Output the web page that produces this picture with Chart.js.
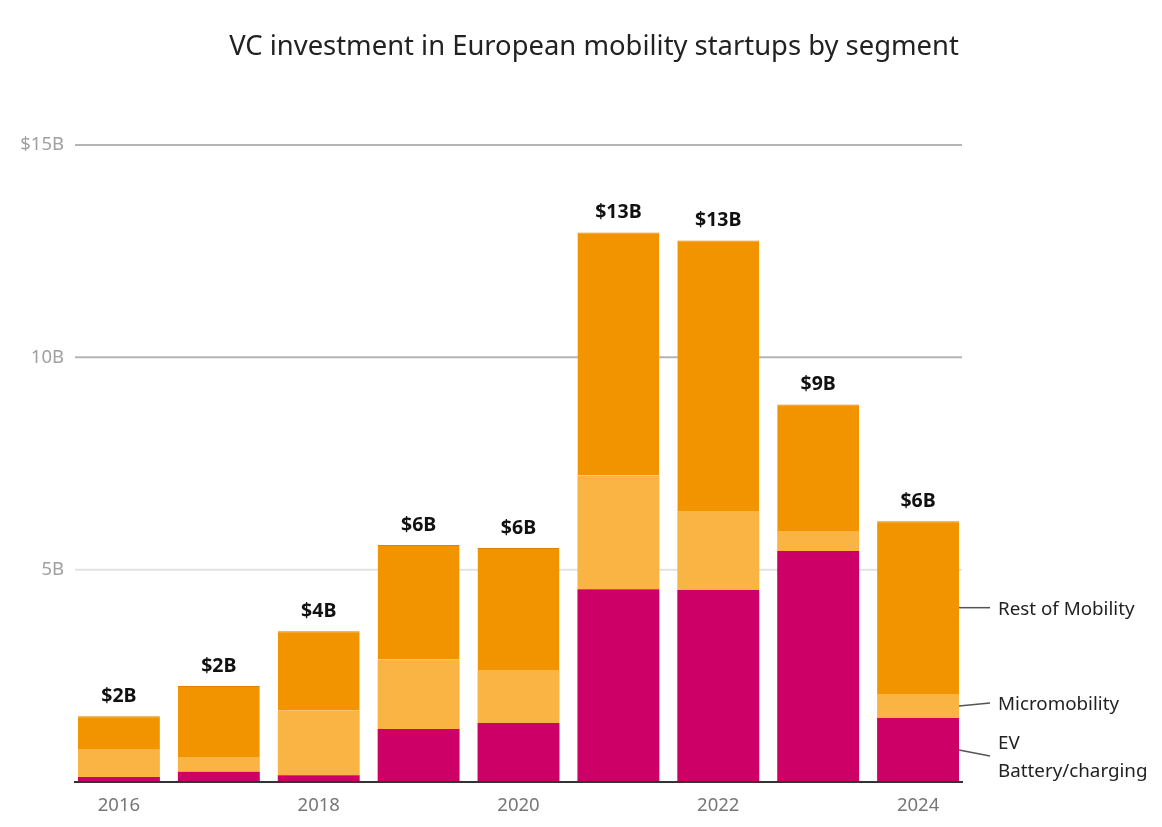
<!DOCTYPE html>
<html>
<head>
<meta charset="utf-8">
<script src="https://cdn.jsdelivr.net/npm/chart.js@4.4.1/dist/chart.umd.min.js"></script>
<style>
  html, body { margin: 0; padding: 0; background: #fff; }
  #wrap { width: 1162px; height: 827px; }
</style>
</head>
<body>
<div id="wrap"><canvas id="chart"></canvas></div>
<script>
// years on the x axis
const years = ['2016', '2017', '2018', '2019', '2020', '2021', '2022', '2023', '2024'];

// investment in $B
const evBattery = [0.12, 0.24, 0.16, 1.25, 1.39, 4.54, 4.52, 5.44, 1.51];
const micromobility = [0.66, 0.35, 1.53, 1.64, 1.25, 2.68, 1.86, 0.47, 0.56];
const restOfMobility = [0.77, 1.67, 1.86, 2.69, 2.87, 5.72, 6.37, 2.98, 4.07];

const seriesNames = [['EV', 'Battery/charging'], ['Micromobility'], ['Rest of Mobility']];
const yTicks = [0, 5, 10, 15];

const FONT = '"Noto Sans", sans-serif';
const GRID_INSET = 6;

// gridlines a little shorter than the plot area, like the original
const gridLines = {
    id: 'gridLines',
    beforeDatasetsDraw(chart) {
        const ctx = chart.ctx;
        const area = chart.chartArea;
        const yScale = chart.scales.y;
        ctx.save();
        ctx.lineWidth = 2;
        yTicks.forEach(v => {
            if (v === 0) return;
            const py = yScale.getPixelForValue(v);
            ctx.strokeStyle = v === 5 ? '#e2e2e2' : '#b4b4b4';
            ctx.beginPath();
            ctx.moveTo(area.left + GRID_INSET, py);
            ctx.lineTo(area.right - GRID_INSET, py);
            ctx.stroke();
        });
        ctx.restore();
    },
    afterDatasetsDraw(chart) {
        const ctx = chart.ctx;
        const area = chart.chartArea;
        ctx.save();
        ctx.strokeStyle = '#333';
        ctx.lineWidth = 2;
        ctx.beginPath();
        ctx.moveTo(area.left + GRID_INSET - 1, area.bottom);
        ctx.lineTo(area.right - GRID_INSET + 1, area.bottom);
        ctx.stroke();
        ctx.restore();
    }
};

// title, totals above the bars and the labels on the right
const annotations = {
    id: 'annotations',
    afterDatasetsDraw(chart) {
        const ctx = chart.ctx;
        const yScale = chart.scales.y;
        ctx.save();

        // title
        ctx.fillStyle = '#222';
        ctx.font = '27.4px ' + FONT;
        ctx.textAlign = 'center';
        ctx.textBaseline = 'middle';
        ctx.fillText('VC investment in European mobility startups by segment', 594, 47);

        // totals
        ctx.font = 'bold 19.5px ' + FONT;
        ctx.fillStyle = '#111';
        const topMeta = chart.getDatasetMeta(2);
        years.forEach((y, i) => {
            const total = evBattery[i] + micromobility[i] + restOfMobility[i];
            const bar = topMeta.data[i];
            ctx.fillText('$' + Math.round(total) + 'B', bar.x, yScale.getPixelForValue(total) - 20);
        });

        // right side labels with leader lines
        const last = years.length - 1;
        const shifts = [6, -3, 0];
        ctx.font = '18.8px ' + FONT;
        ctx.fillStyle = '#222';
        ctx.textAlign = 'left';
        ctx.strokeStyle = '#555';
        ctx.lineWidth = 1.5;
        for (let d = 0; d < 3; d++) {
            const bar = chart.getDatasetMeta(d).data[last];
            const mid = (bar.y + bar.base) / 2;
            const x0 = bar.x + bar.width / 2;
            const labelY = mid + shifts[d];
            ctx.beginPath();
            ctx.moveTo(x0, mid);
            ctx.lineTo(x0 + 31, labelY);
            ctx.stroke();
            const lines = seriesNames[d];
            const lh = 28;
            lines.forEach((t, k) => {
                ctx.fillText(t, x0 + 39, labelY + 2 + (k - (lines.length - 1) / 2) * lh);
            });
        }
        ctx.restore();
    }
};

window.onload = () => {
    const ctx = document.getElementById('chart').getContext('2d');
    new Chart(ctx, {
        type: 'bar',
        data: {
            labels: years,
            datasets: [
                { label: 'EV Battery/charging', data: evBattery, backgroundColor: '#cc0066' },
                { label: 'Micromobility', data: micromobility, backgroundColor: '#f9b443' },
                {
                    label: 'Rest of Mobility', data: restOfMobility, backgroundColor: '#f29400',
                    borderColor: '#d88400', borderWidth: { top: 1, left: 0, right: 0, bottom: 0 }, borderSkipped: 'bottom'
                }
            ]
        },
        options: {
            responsive: true,
            maintainAspectRatio: false,
            animation: false,
            layout: { padding: { top: 145, right: 194, bottom: 0, left: 0 } },
            datasets: { bar: { barPercentage: 0.82, categoryPercentage: 1 } },
            plugins: {
                legend: { display: false },
                tooltip: { enabled: false },
                title: { display: false }
            },
            scales: {
                x: {
                    stacked: true,
                    grid: { display: false, drawTicks: false },
                    border: { display: false },
                    ticks: {
                        color: '#777',
                        font: { size: 18.5, family: FONT },
                        padding: 13,
                        maxRotation: 0,
                        autoSkip: false,
                        callback: (v, i) => (i % 2 === 0 ? years[i] : '')
                    },
                    afterFit: (s) => { s.height = 45; }
                },
                y: {
                    stacked: true,
                    min: 0,
                    max: 15,
                    afterBuildTicks: (s) => { s.ticks = yTicks.map(v => ({ value: v })); },
                    grid: { display: false, drawTicks: false },
                    border: { display: false },
                    ticks: {
                        color: '#a0a0a0',
                        font: { size: 18.5, family: FONT },
                        padding: 5,
                        callback: (v) => (v === 0 ? '' : v === 15 ? '$15B' : v + 'B')
                    },
                    afterFit: (s) => { s.width = 69; }
                }
            }
        },
        plugins: [gridLines, annotations]
    });
};
</script>
</body>
</html>
